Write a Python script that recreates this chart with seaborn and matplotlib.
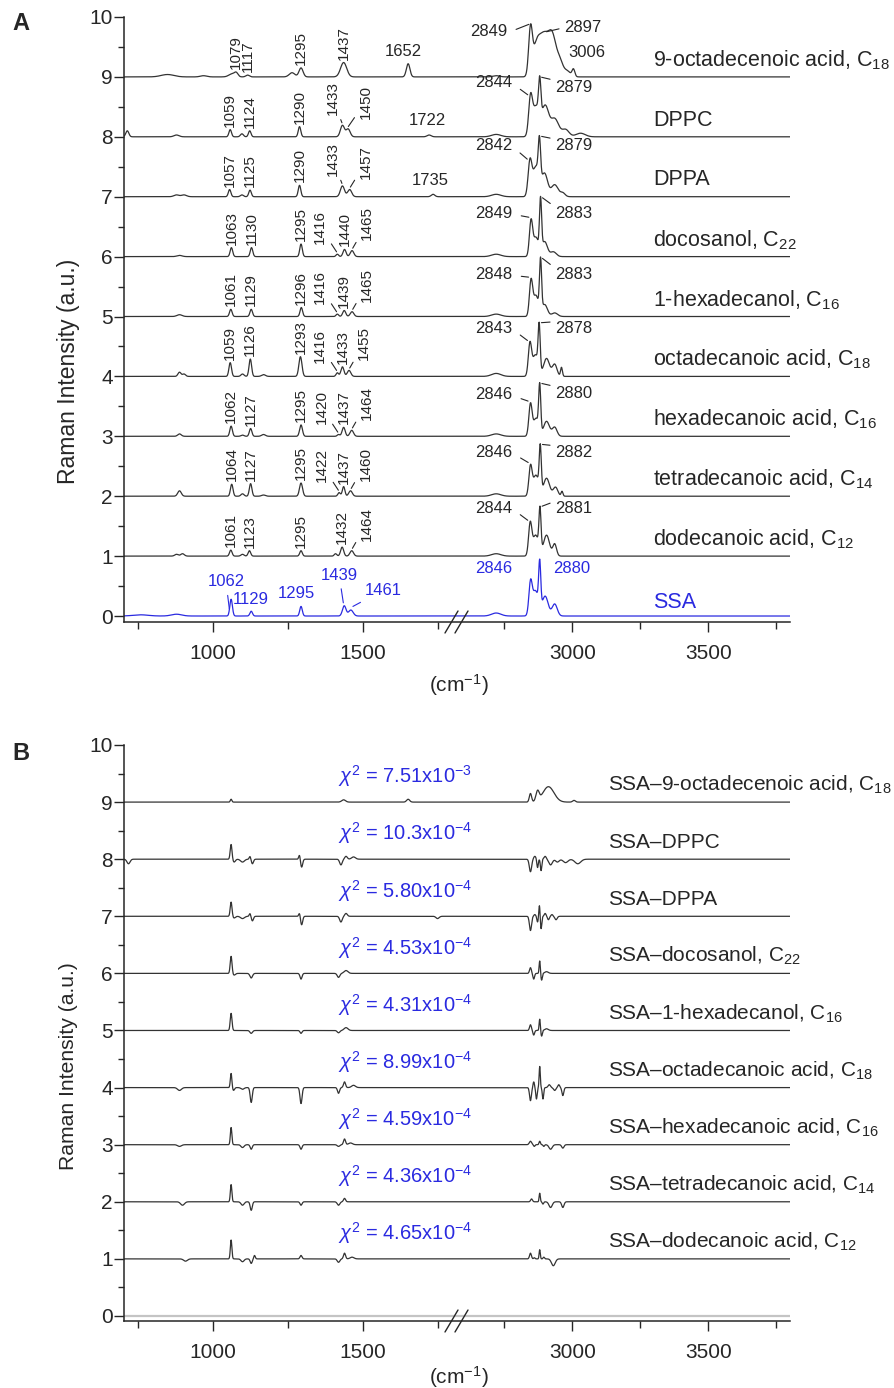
import numpy as np
import pandas as pd
import matplotlib
matplotlib.use('Agg')
import matplotlib.pyplot as plt
import seaborn as sns
from matplotlib.ticker import NullFormatter, StrMethodFormatter

# ---------------- data ----------------
# peaks: (wavenumber, height, fwhm) in plot units (1 unit = one offset step)
oleic_peaks = [(850, 0.04, 50), (970, 0.02, 25), (1065, 0.05, 25), (1079, 0.06, 14), (1117, 0.03, 14),
               (1265, 0.07, 22), (1295, 0.15, 16), (1437, 0.24, 24), (1652, 0.22, 14),
               (2720, 0.02, 30), (2846, 0.74, 16), (2868, 0.5, 32), (2895, 0.6, 36), (2926, 0.68, 36),
               (2955, 0.2, 25), (2980, 0.1, 30), (3004, 0.12, 12)]
dppc_peaks = [(716, 0.1, 12), (880, 0.03, 20), (1059, 0.12, 10), (1098, 0.05, 12), (1124, 0.1, 10),
              (1290, 0.17, 10), (1433, 0.19, 16), (1452, 0.13, 16), (1722, 0.03, 16),
              (2720, 0.04, 40), (2846, 0.58, 16), (2866, 0.5, 30), (2880, 0.6, 10), (2900, 0.5, 30),
              (2935, 0.3, 35), (2975, 0.12, 30), (3030, 0.06, 40)]
dppa_peaks = [(880, 0.03, 20), (905, 0.03, 20), (1057, 0.12, 10), (1098, 0.03, 12), (1125, 0.11, 10),
              (1290, 0.19, 10), (1433, 0.18, 16), (1457, 0.12, 16), (1735, 0.04, 14),
              (2720, 0.04, 40), (2844, 0.55, 16), (2866, 0.5, 28), (2879, 0.66, 10), (2898, 0.38, 26),
              (2935, 0.2, 30), (2965, 0.06, 20)]
docosanol_peaks = [(890, 0.02, 20), (1063, 0.15, 10), (1130, 0.15, 10), (1295, 0.21, 10), (1416, 0.04, 10),
                   (1440, 0.12, 12), (1465, 0.1, 14),
                   (2720, 0.04, 40), (2848, 0.58, 14), (2866, 0.32, 22), (2883, 0.86, 9), (2898, 0.25, 24),
                   (2930, 0.08, 25)]
hexadecanol_peaks = [(890, 0.03, 20), (1061, 0.12, 10), (1129, 0.12, 10), (1296, 0.15, 10), (1416, 0.04, 10),
                     (1439, 0.1, 12), (1465, 0.08, 14),
                     (2720, 0.04, 40), (2848, 0.58, 14), (2866, 0.35, 22), (2883, 0.86, 9), (2898, 0.2, 24),
                     (2935, 0.06, 25)]
octadecanoic_peaks = [(890, 0.07, 12), (905, 0.04, 12), (1059, 0.23, 10), (1100, 0.04, 12), (1126, 0.29, 10),
                      (1170, 0.03, 15), (1293, 0.33, 12), (1416, 0.06, 10), (1433, 0.16, 12), (1455, 0.1, 14),
                      (2720, 0.05, 40), (2844, 0.53, 14), (2864, 0.36, 24), (2878, 0.75, 9), (2905, 0.3, 26),
                      (2935, 0.2, 20), (2960, 0.15, 8)]
hexadecanoic_peaks = [(890, 0.04, 14), (1062, 0.17, 10), (1100, 0.02, 12), (1127, 0.13, 10), (1170, 0.03, 15),
                      (1295, 0.19, 11), (1420, 0.03, 10), (1437, 0.15, 12), (1464, 0.1, 14),
                      (2720, 0.04, 40), (2846, 0.53, 14), (2866, 0.3, 22), (2880, 0.78, 9), (2905, 0.25, 26),
                      (2935, 0.15, 20)]
tetradecanoic_peaks = [(890, 0.09, 14), (1064, 0.2, 10), (1100, 0.04, 12), (1127, 0.21, 10), (1170, 0.02, 15),
                       (1295, 0.22, 12), (1422, 0.06, 10), (1437, 0.16, 10), (1460, 0.09, 14),
                       (2720, 0.04, 40), (2846, 0.48, 14), (2866, 0.35, 24), (2882, 0.74, 9), (2905, 0.3, 26),
                       (2938, 0.15, 20), (2962, 0.08, 8)]
dodecanoic_peaks = [(880, 0.03, 14), (900, 0.04, 14), (1061, 0.1, 10), (1100, 0.03, 12), (1123, 0.09, 10),
                    (1295, 0.09, 10), (1410, 0.04, 10), (1432, 0.15, 12), (1464, 0.09, 14),
                    (2720, 0.04, 40), (2845, 0.53, 14), (2865, 0.35, 24), (2881, 0.7, 9), (2905, 0.35, 26),
                    (2935, 0.2, 16)]
ssa_peaks = [(760, 0.02, 60), (880, 0.03, 40), (1062, 0.28, 10), (1129, 0.08, 10), (1295, 0.16, 10),
             (1439, 0.17, 14), (1461, 0.1, 18),
             (2720, 0.05, 40), (2846, 0.5, 14), (2864, 0.42, 26), (2880, 0.74, 9), (2900, 0.33, 26),
             (2935, 0.2, 22)]

# residuals SSA - reference (panel B)
res_oleic = [(1062, 0.05, 6), (1437, 0.04, 15), (1652, 0.05, 12),
             (2846, 0.15, 10), (2872, 0.17, 14), (2912, 0.27, 48), (3006, 0.03, 12)]
res_dppc = [(720, -0.08, 12), (1062, 0.26, 7), (1072, -0.05, 10), (1100, -0.05, 15), (1125, 0.05, 6),
            (1133, -0.08, 8), (1290, 0.08, 6), (1297, -0.14, 8), (1428, -0.1, 10), (1445, 0.05, 10),
            (1470, 0.04, 15),
            (2846, -0.22, 10), (2862, 0.05, 10), (2872, -0.15, 6), (2885, -0.2, 6), (2900, 0.05, 10),
            (2920, -0.1, 15), (2945, -0.05, 15), (2975, -0.06, 20), (3020, -0.08, 25)]
res_dppa = [(1062, 0.25, 7), (1072, -0.03, 10), (1100, -0.04, 15), (1125, 0.05, 6), (1133, -0.08, 8),
            (1290, 0.06, 6), (1297, -0.15, 8), (1428, -0.1, 10), (1445, 0.05, 10), (1750, -0.04, 12),
            (2846, -0.25, 9), (2862, 0.03, 8), (2872, -0.1, 6), (2879, 0.2, 5), (2885, -0.22, 6),
            (2900, 0.05, 8), (2912, -0.06, 8), (2925, 0.03, 8), (2940, -0.06, 10)]
res_docosanol = [(1062, 0.3, 7), (1072, -0.03, 10), (1129, -0.08, 10), (1295, -0.1, 8), (1420, -0.07, 10),
                 (1445, 0.05, 15),
                 (2846, 0.1, 8), (2858, -0.1, 7), (2880, 0.22, 5), (2887, -0.12, 6), (2905, 0.03, 15)]
res_hexadecanol = [(1062, 0.3, 7), (1129, -0.05, 10), (1295, -0.05, 8), (1420, -0.04, 10), (1445, 0.05, 15),
                   (2846, 0.1, 8), (2858, -0.08, 7), (2880, 0.2, 5), (2887, -0.1, 6), (2905, 0.03, 15)]
res_octadecanoic = [(890, -0.05, 15), (1062, 0.25, 6), (1070, -0.05, 8), (1100, -0.03, 12), (1129, -0.26, 8),
                    (1295, -0.28, 8), (1420, -0.1, 8), (1440, 0.1, 8), (1470, 0.04, 15),
                    (2846, -0.23, 8), (2858, 0.1, 6), (2868, -0.2, 6), (2880, 0.37, 5), (2892, -0.2, 6),
                    (2915, 0.05, 10), (2935, -0.05, 10), (2950, 0.05, 8), (2965, -0.14, 8)]
res_hexadecanoic = [(890, -0.03, 15), (1062, 0.3, 6), (1100, -0.05, 12), (1129, -0.08, 8), (1295, -0.08, 8),
                    (1420, -0.03, 10), (1440, 0.1, 8), (1460, 0.03, 15),
                    (2846, 0.06, 10), (2860, -0.03, 6), (2880, 0.06, 6), (2895, -0.03, 6), (2920, -0.08, 14),
                    (2965, -0.06, 10)]
res_tetradecanoic = [(900, -0.06, 15), (1062, 0.3, 6), (1100, -0.06, 12), (1129, -0.15, 8), (1295, -0.06, 8),
                     (1420, -0.06, 10), (1440, 0.06, 8),
                     (2850, 0.05, 8), (2880, 0.15, 5), (2892, -0.04, 6), (2920, -0.1, 14), (2965, -0.1, 10)]
res_dodecanoic = [(910, -0.04, 15), (1062, 0.33, 6), (1100, -0.05, 12), (1129, -0.08, 8), (1140, 0.06, 6),
                  (1295, 0.06, 8), (1420, -0.06, 10), (1440, 0.1, 8), (1465, 0.03, 15),
                  (2846, 0.1, 8), (2860, 0.02, 6), (2880, 0.16, 5), (2895, 0.03, 6), (2930, -0.12, 16)]

names_a = ['9-octadecenoic acid, C$_{18}$', 'DPPC', 'DPPA', 'docosanol, C$_{22}$',
           '1-hexadecanol, C$_{16}$', 'octadecanoic acid, C$_{18}$', 'hexadecanoic acid, C$_{16}$',
           'tetradecanoic acid, C$_{14}$', 'dodecanoic acid, C$_{12}$', 'SSA']
offsets_a = [9, 8, 7, 6, 5, 4, 3, 2, 1, 0]
peaks_a = [oleic_peaks, dppc_peaks, dppa_peaks, docosanol_peaks, hexadecanol_peaks, octadecanoic_peaks,
           hexadecanoic_peaks, tetradecanoic_peaks, dodecanoic_peaks, ssa_peaks]

names_b = ['SSA\u20139-octadecenoic acid, C$_{18}$', 'SSA\u2013DPPC', 'SSA\u2013DPPA',
           'SSA\u2013docosanol, C$_{22}$', 'SSA\u20131-hexadecanol, C$_{16}$',
           'SSA\u2013octadecanoic acid, C$_{18}$', 'SSA\u2013hexadecanoic acid, C$_{16}$',
           'SSA\u2013tetradecanoic acid, C$_{14}$', 'SSA\u2013dodecanoic acid, C$_{12}$']
offsets_b = [9, 8, 7, 6, 5, 4, 3, 2, 1]
peaks_b = [res_oleic, res_dppc, res_dppa, res_docosanol, res_hexadecanol, res_octadecanoic,
           res_hexadecanoic, res_tetradecanoic, res_dodecanoic]
chi2_mant = ['7.51', '10.3', '5.80', '4.53', '4.31', '8.99', '4.59', '4.36', '4.65']
chi2_exp = [-3, -4, -4, -4, -4, -4, -4, -4, -4]

# peak labels of panel A
rot_labels = [[1079, 1117, 1295, 1437], [1059, 1124, 1290, 1433, 1450], [1057, 1125, 1290, 1433, 1457],
              [1063, 1130, 1295, 1416, 1440, 1465], [1061, 1129, 1296, 1416, 1439, 1465],
              [1059, 1126, 1293, 1416, 1433, 1455], [1062, 1127, 1295, 1420, 1437, 1464],
              [1064, 1127, 1295, 1422, 1437, 1460], [1061, 1123, 1295, 1432, 1464]]
ch_labels = [(2849, 2897), (2844, 2879), (2842, 2879), (2849, 2883), (2848, 2883), (2843, 2878),
             (2846, 2880), (2846, 2882), (2844, 2881)]
flat_labels = [(0, 1652), (0, 3006), (1, 1722), (2, 1735)]
ssa_labels = [1062, 1129, 1295, 1439, 1461]
ssa_ch_labels = [2846, 2880]

# ---------------- layout ----------------
PX = 0.72                      # points per pixel (dpi 100)
INK = '#262626'
BLUE = '#2a2ae0'
rot_shift = [[0, 0, 0, 0], [0, 0, 0, -10, 18], [0, 0, 0, -10, 16], [0, 0, 0, -17, 0, 15],
             [0, 0, 0, -17, 0, 15], [0, 0, 0, -17, 0, 15], [0, 0, 0, -17, 0, 15],
             [0, 0, 0, -17, 0, 15], [0, 0, 0, 0, 15]]
ch_text_y = [(0.75, 0.82), (0.9, 0.83), (0.85, 0.85), (0.72, 0.72), (0.7, 0.7), (0.8, 0.8),
             (0.69, 0.72), (0.73, 0.73), (0.8, 0.8)]
ch_text_x = [(2762, 2968)] + [(2780, 2935)] * 8
flat_pos = [(1635, 0.42), (3052, 0.4), (1715, 0.27), (1725, 0.27)]
ssa_pos = [(1045, 0.57), (1129, 0.27), (1278, 0.37), (1422, 0.68), (1568, 0.43)]
ssa_leader = [(1056, 0.12), None, None, (1436, 0.22), (1468, 0.16)]


def fwd(x):
    x = np.asarray(x, dtype=float)
    return np.where(x <= 1800, (x - 700) * 0.3,
                    np.where(x >= 2600, 341 + (x - 2600) * 0.272, 330 + (x - 1800) * 11 / 800))


def inv(u):
    u = np.asarray(u, dtype=float)
    return np.where(u <= 330, 700 + u / 0.3,
                    np.where(u >= 341, 2600 + (u - 341) / 0.272, 1800 + (u - 330) * 800 / 11))


def spectrum(peaks, x):
    y = np.zeros_like(x)
    for c, h, w in peaks:
        s = w / 2.3548
        y += h * np.exp(-0.5 * ((x - c) / s) ** 2)
    return y


wn = np.arange(705, 3801, 1.0)

sns.set_theme(style='ticks')
plt.rcParams['font.family'] = ['Liberation Sans', 'DejaVu Sans']
plt.rcParams['mathtext.fontset'] = 'custom'
plt.rcParams['mathtext.rm'] = 'Liberation Sans'
plt.rcParams['mathtext.it'] = 'Liberation Sans:italic'
plt.rcParams['mathtext.bf'] = 'Liberation Sans:bold'
plt.rcParams['text.color'] = INK

fig = plt.figure(figsize=(8.94, 13.88), dpi=100)
axA = fig.add_axes([124 / 894, 1 - 622 / 1388, 666 / 894, 605 / 1388])
axB = fig.add_axes([124 / 894, 1 - 1321 / 1388, 666 / 894, 576 / 1388])


def style_axis(ax, ybottom, h_px):
    ax.set_xscale('function', functions=(fwd, inv))
    ax.set_xlim(705, 3800)
    ax.set_ylim(ybottom, 10)
    ax.set_xticks([1000, 1500, 3000, 3500])
    ax.set_xticks([750, 1250, 1750, 2750, 3250, 3750], minor=True)
    ax.xaxis.set_major_formatter(StrMethodFormatter('{x:.0f}'))
    ax.xaxis.set_minor_formatter(NullFormatter())
    ax.set_yticks(range(11))
    ax.set_yticks(np.arange(0.5, 10, 1), minor=True)
    ax.tick_params(which='major', direction='out', length=7, width=1, labelsize=15,
                   color=INK, labelcolor=INK)
    ax.tick_params(which='minor', direction='out', length=4.5, width=1, color=INK)
    ax.tick_params(axis='x', which='both', pad=9)
    ax.tick_params(axis='y', which='both', pad=1)
    ax.tick_params(axis='x', which='minor', length=5)
    for s in ['top', 'right']:
        ax.spines[s].set_visible(False)
    for s in ['left', 'bottom']:
        ax.spines[s].set_color(INK)
        ax.spines[s].set_linewidth(1.1)
    ax.set_xlabel('')
    ax.set_ylabel('')
    # axis break marks
    for x0 in (445, 455):
        ax.plot([(x0 - 124) / 666, (x0 + 13 - 124) / 666], [-11 / h_px, 11 / h_px],
                transform=ax.transAxes, color=INK, lw=1, clip_on=False)


def leader(color=INK, rel=(0.5, 0.5), sa=1, sb=1):
    return dict(arrowstyle='-', lw=0.8, color=color, relpos=rel, shrinkA=sa, shrinkB=sb)


# ---------------- panel A ----------------
curves_a = [spectrum(p, wn) for p in peaks_a]
df_a = pd.concat([pd.DataFrame({'wn': wn, 'y': c + off, 'name': n})
                  for c, off, n in zip(curves_a, offsets_a, names_a)])
pal_a = {n: (BLUE if n == 'SSA' else '#333333') for n in names_a}
sns.lineplot(data=df_a, x='wn', y='y', hue='name', palette=pal_a, estimator=None, sort=False,
             legend=False, lw=0.9, ax=axA)
style_axis(axA, -0.1, 605)

for i, (labs, shifts) in enumerate(zip(rot_labels, rot_shift)):
    base = offsets_a[i]
    for lab, dx in zip(labs, shifts):
        top = base + np.interp(lab, wn, curves_a[i])
        if dx:
            axA.annotate(str(lab), xy=(lab, top + 0.02), xytext=(dx * PX, 9 * PX),
                         textcoords='offset points', rotation=90, ha='center', va='bottom',
                         fontsize=11, arrowprops=leader())
        else:
            axA.annotate(str(lab), xy=(lab, top), xytext=(0, 3 * PX), textcoords='offset points',
                         rotation=90, ha='center', va='bottom', fontsize=11)

for i, (l, r) in enumerate(ch_labels):
    base = offsets_a[i]
    ly, ry = ch_text_y[i]
    lx, rx = ch_text_x[i]
    axA.annotate(str(l), xy=(l - 4, base + np.interp(l, wn, curves_a[i]) + 0.02), xytext=(lx, base + ly),
                 ha='right', va='center', fontsize=12, arrowprops=leader(rel=(1, 0.45), sa=4, sb=1))
    rel_r = (0, 0.5) if i == 0 else (0, 0.95)
    axA.annotate(str(r), xy=(r + 3, base + np.interp(r, wn, curves_a[i]) - 0.01), xytext=(rx, base + ry),
                 ha='left', va='center', fontsize=12, arrowprops=leader(rel=rel_r, sa=1, sb=1))

for (i, lab), (x, dy) in zip(flat_labels, flat_pos):
    axA.text(x, offsets_a[i] + dy, str(lab), ha='center', va='center', fontsize=12)

for lab, (x, dy), lead in zip(ssa_labels, ssa_pos, ssa_leader):
    if lead:
        axA.annotate(str(lab), xy=lead, xytext=(x, dy), ha='center', va='center', fontsize=12,
                     color=BLUE, arrowprops=leader(color=BLUE, sa=2, sb=0))
    else:
        axA.text(x, dy, str(lab), ha='center', va='center', fontsize=12, color=BLUE)
axA.text(2780, 0.8, str(ssa_ch_labels[0]), ha='right', va='center', fontsize=12, color=BLUE)
axA.text(2931, 0.8, str(ssa_ch_labels[1]), ha='left', va='center', fontsize=12, color=BLUE)

for n, off in zip(names_a, offsets_a):
    axA.text(3297, off + (0.23 if n == 'SSA' else 0.28), n, ha='left', va='center', fontsize=15.5,
             color=(BLUE if n == 'SSA' else INK), clip_on=False)

axA.text(-0.083, 0.415, 'Raman Intensity (a.u.)', transform=axA.transAxes, rotation=90,
         ha='center', va='center', fontsize=16.5)

# ---------------- panel B ----------------
curves_b = [spectrum(p, wn) for p in peaks_b]
df_b = pd.concat([pd.DataFrame({'wn': wn, 'y': c + off, 'name': n})
                  for c, off, n in zip(curves_b, offsets_b, names_b)])
axB.axhline(0, color='#c4c4c4', lw=1.6, zorder=1)
sns.lineplot(data=df_b, x='wn', y='y', hue='name', palette={n: '#333333' for n in names_b},
             estimator=None, sort=False, legend=False, lw=0.9, ax=axB)
style_axis(axB, -0.088, 576)

for n, off, m, e in zip(names_b, offsets_b, chi2_mant, chi2_exp):
    axB.text(1418, off + 0.45, r'$\chi^2$ = ' + m + 'x10$^{' + str(e) + '}$', ha='left', va='center',
             fontsize=14.5, color=BLUE)
    axB.text(3131, off + 0.3, n, ha='left', va='center', fontsize=15, color=INK, clip_on=False)

axB.text(-0.083, 0.443, 'Raman Intensity (a.u.)', transform=axB.transAxes, rotation=90,
         ha='center', va='center', fontsize=15.2)

# ---------------- figure texts ----------------
fig.text(459 / 894, 1 - 685 / 1388, '(cm$^{-1}$)', ha='center', va='center', fontsize=15)
fig.text(459 / 894, 1 - 1377 / 1388, '(cm$^{-1}$)', ha='center', va='center', fontsize=15)
fig.text(12 / 894, 1 - 24 / 1388, 'A', ha='left', va='center', fontsize=17, fontweight='bold')
fig.text(12 / 894, 1 - 754 / 1388, 'B', ha='left', va='center', fontsize=17, fontweight='bold')

fig.savefig('out.png', dpi=100, facecolor='white')
